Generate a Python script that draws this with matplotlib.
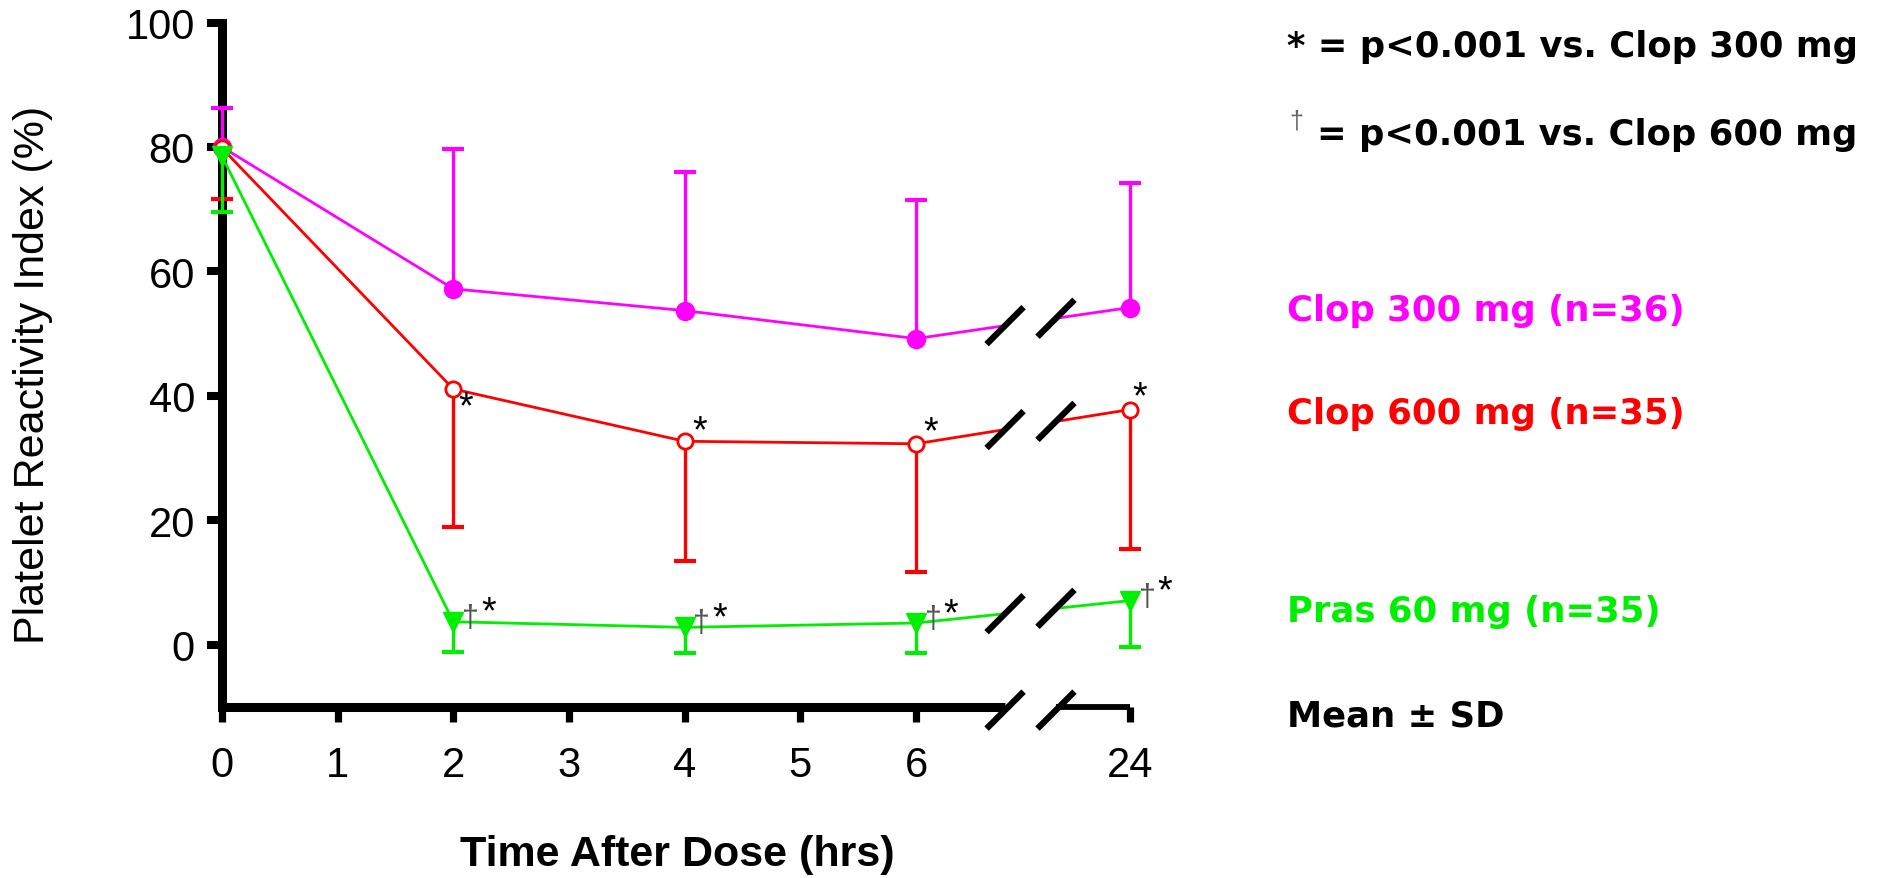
import matplotlib
matplotlib.use("Agg")
import matplotlib.pyplot as plt
from matplotlib.transforms import Affine2D, ScaledTranslation
import numpy as np

# ---------------- data ----------------
times = [0, 2, 4, 6, 24]
x_tick_hours = [0, 1, 2, 3, 4, 5, 6, 24]
y_ticks = [0, 20, 40, 60, 80, 100]

clop300_mean = [80.0, 57.2, 53.7, 49.2, 54.2]
clop300_sd = [6.3, 22.5, 22.2, 22.2, 20.0]
clop600_mean = [79.8, 41.1, 32.7, 32.3, 37.8]
clop600_sd = [8.2, 22.2, 19.2, 20.6, 22.4]
pras60_mean = [78.5, 3.7, 2.8, 3.5, 7.1]
pras60_sd = [8.9, 4.8, 4.1, 4.9, 7.5]

series_labels = ["Clop 300 mg (n=36)", "Clop 600 mg (n=35)", "Pras 60 mg (n=35)"]
note_star = "* = p<0.001 vs. Clop 300 mg"
note_dagger = "= p<0.001 vs. Clop 600 mg"
note_sd = "Mean \u00b1 SD"
x_label = "Time After Dose (hrs)"
y_label = "Platelet Reactivity Index (%)"

# ---------------- style / layout ----------------
plt.rcParams['font.family'] = ['Liberation Sans', 'DejaVu Sans']
W, H = 1883, 879
fig = plt.figure(figsize=(W / 100, H / 100), dpi=100)
ax = fig.add_axes([222 / W, 1 - 708 / H, 908 / W, 684.5 / H])

MAGENTA, RED, GREEN = '#FF00FF', '#FF0000', '#00EE00'

BREAK_LAST = 6          # last hour drawn on the linear part of the axis
POS_24 = 7.85           # axis position used for the 24 h point (after the break)
GAP = (6.77, 7.21)      # positions of the two break marks


def xpos(t):
    return t if t <= BREAK_LAST else POS_24


def px2pt(v):
    return v * 0.72


def slash(x, y, color='black', lw=4.5, z=6):
    tr = Affine2D().scale(fig.dpi / 72.0) + ScaledTranslation(x, y, ax.transData)
    h = px2pt(18.5)
    ax.plot([-h, h], [-h, h], transform=tr, color=color, lw=lw,
            solid_capstyle='butt', clip_on=False, zorder=z)


def draw_series(mean, sd, color, marker, mfc, side, ms, mew, z):
    xp = [xpos(t) for t in times]
    m = np.array(mean, dtype=float)
    s = np.array(sd, dtype=float)
    y1 = np.interp(GAP[0], [xp[-2], xp[-1]], [m[-2], m[-1]])
    y2 = np.interp(GAP[1], [xp[-2], xp[-1]], [m[-2], m[-1]])
    ax.plot(xp[:-1] + [GAP[0]], list(m[:-1]) + [y1], color=color, lw=2.0,
            clip_on=False, zorder=z)
    ax.plot([GAP[1], xp[-1]], [y2, m[-1]], color=color, lw=2.0,
            clip_on=False, zorder=z)
    end = m + s if side == 'up' else m - s
    ax.vlines(xp, m, end, color=color, lw=2.4, zorder=z, clip_on=False)
    ax.plot(xp, end, ls='none', marker='_', ms=16, mew=3, color=color,
            clip_on=False, zorder=z)
    ax.plot(xp, m, ls='none', marker=marker, ms=ms, mfc=mfc, mec=color,
            mew=mew, clip_on=False, zorder=z + 0.5)
    slash(GAP[0], y1)
    slash(GAP[1], y2)
    return xp, m


draw_series(clop300_mean, clop300_sd, MAGENTA, 'o', MAGENTA, 'up', 13, 1, 3)
xp600, m600 = draw_series(clop600_mean, clop600_sd, RED, 'o', 'white', 'down', 11, 2.0, 4)
xpp, mp = draw_series(pras60_mean, pras60_sd, GREEN, 'v', GREEN, 'down', 14, 1, 5)

# significance marks
star_off_red = [(12, -28), (15, 0), (15, 1), (10, 2)]   # pixel offsets (dx, dy up)
for (dx, dy), x, y in zip(star_off_red, xp600[1:], m600[1:]):
    ax.annotate('*', xy=(x, y), xytext=(px2pt(dx), px2pt(dy)), textcoords='offset points',
                ha='center', va='baseline', fontsize=27, color='black', zorder=7,
                annotation_clip=False)
for x, y in zip(xpp[1:], mp[1:]):
    ax.annotate('\u2020', xy=(x, y), xytext=(px2pt(17), px2pt(-4)), textcoords='offset points',
                ha='center', va='baseline', fontsize=22, color='#555555', zorder=7,
                annotation_clip=False)
    ax.annotate('*', xy=(x, y), xytext=(px2pt(35), px2pt(-1)), textcoords='offset points',
                ha='center', va='baseline', fontsize=27, color='black', zorder=7,
                annotation_clip=False)

# ---------------- axes ----------------
ax.set_xlim(0, POS_24)
ax.set_ylim(-10, 100)
ax.spines['top'].set_visible(False)
ax.spines['right'].set_visible(False)
ax.spines['left'].set_linewidth(6.5)
ax.spines['left'].set_bounds(-10, 100)
ax.spines['bottom'].set_linewidth(6.5)
ax.spines['bottom'].set_bounds(0, GAP[0])
ax.spines['bottom'].set_capstyle('butt')
ax.plot([GAP[1], POS_24], [-10, -10], color='black', lw=4.2, clip_on=False,
        solid_capstyle='butt', zorder=6)
slash(GAP[0], -10.5, lw=4.5)
slash(GAP[1], -10.5, lw=4.5)

ax.set_yticks(y_ticks)
ax.set_xticks([xpos(t) for t in x_tick_hours])
ax.set_xticklabels([str(t) for t in x_tick_hours])
ax.tick_params(axis='y', direction='out', length=10.5, width=5.8, pad=9, labelsize=30)
ax.tick_params(axis='x', direction='out', length=10.5, width=5.2, pad=17, labelsize=30)

ax.set_ylabel(y_label, fontsize=31, va='center', ha='center')
ax.yaxis.set_label_coords(-0.208, 0.4865)
ax.set_xlabel(x_label, fontsize=31, fontweight='bold', va='center', ha='center')
ax.xaxis.set_label_coords(0.501, -0.2148)

# ---------------- right-hand notes ----------------
def ftxt(x, y, s, **kw):
    fig.text(x / W, 1 - y / H, s, ha='left', va='baseline', **kw)

RFONT = dict(family=['DejaVu Sans'], fontweight='bold', fontsize=25.5)
ftxt(1287, 57, note_star, color='black', **RFONT)
ftxt(1289, 128, '\u2020', color='#666666', family=['Liberation Sans'], fontsize=18)
ftxt(1317, 145, note_dagger, color='black', **RFONT)
ftxt(1287, 321, series_labels[0], color=MAGENTA, **RFONT)
ftxt(1287, 424, series_labels[1], color=RED, **RFONT)
ftxt(1287, 622, series_labels[2], color=GREEN, **RFONT)
ftxt(1287, 727, note_sd, color='black', **RFONT)

fig.savefig('out.png', dpi=100, facecolor='white')
